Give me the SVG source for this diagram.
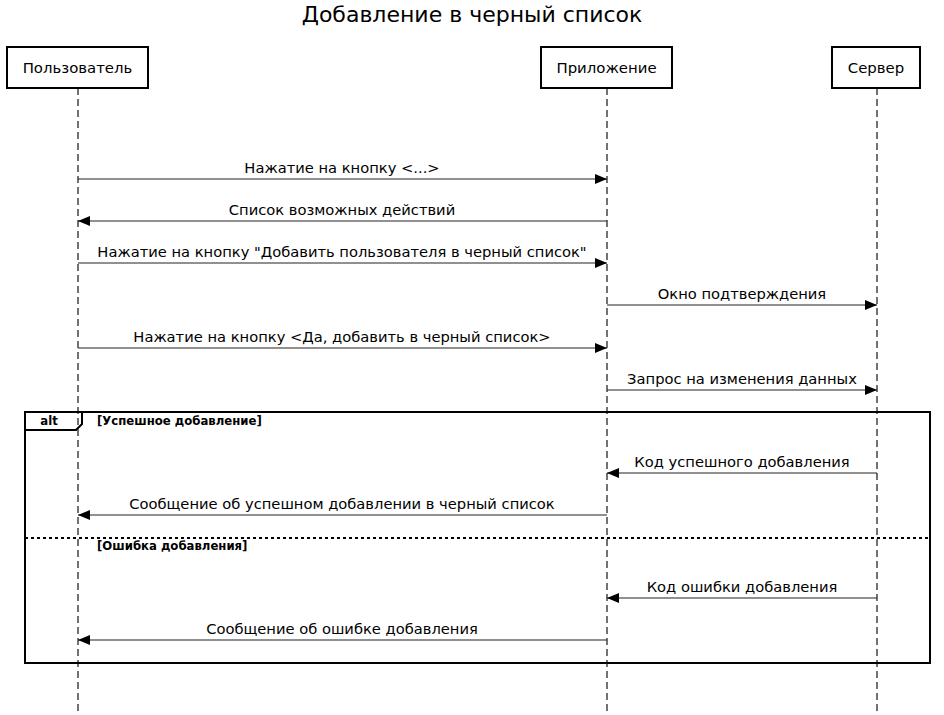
<svg xmlns="http://www.w3.org/2000/svg" width="944" height="715" viewBox="0 0 944 715">
<style>
text{font-family:"DejaVu Sans","Liberation Sans",sans-serif;fill:#000}
.actor{fill:#fff;stroke:#000;stroke-width:2}
.an{font-size:14.9px;text-anchor:middle}
.life{stroke:#444;stroke-width:1.5;stroke-dasharray:7,4;fill:none}
.msg{stroke:#222;stroke-width:1.2;fill:none}
.ml{font-size:14.7px;text-anchor:middle}
.frame{fill:none;stroke:#000;stroke-width:2}
.guard{font-size:11.7px;font-weight:bold}
</style>
<defs>
<marker id="ah" viewBox="0 0 12 10" refX="12" refY="5" markerWidth="12" markerHeight="10" markerUnits="userSpaceOnUse" orient="auto">
<path d="M0,0 L12,5 L0,10 Z" fill="#000"/>
</marker>
</defs>
<rect width="944" height="715" fill="#fff"/>
<text x="472" y="22" font-size="22" text-anchor="middle">Добавление в черный список</text>
<g id="lifelines">
<line class="life" x1="78" y1="88" x2="78" y2="715"/>
<line class="life" x1="607" y1="88" x2="607" y2="715"/>
<line class="life" x1="877" y1="88" x2="877" y2="715"/>
</g>
<g id="user"><rect class="actor" x="7" y="47" width="141" height="41"/><text class="an" x="77.5" y="73">Пользователь</text></g>
<g id="app"><rect class="actor" x="541" y="47" width="131" height="41"/><text class="an" x="606.5" y="73">Приложение</text></g>
<g id="server"><rect class="actor" x="832" y="47" width="88" height="41"/><text class="an" x="876" y="73">Сервер</text></g>
<g id="alt">
<rect class="frame" x="25" y="412" width="905" height="251"/>
<path d="M25,430 L76,430 L82,424 L82,412" fill="none" stroke="#000" stroke-width="2"/>
<text x="49" y="425" font-size="11.7" font-weight="bold" text-anchor="middle">alt</text>
<text class="guard" x="97" y="425">[Успешное добавление]</text>
<line x1="25" y1="538" x2="930" y2="538" stroke="#000" stroke-width="2" stroke-dasharray="3,3"/>
<text class="guard" x="97" y="550">[Ошибка добавления]</text>
</g>
<g id="connectors">
<line class="msg" x1="78" y1="179" x2="607" y2="179" marker-end="url(#ah)"/>
<text class="ml" x="342" y="173">Нажатие на кнопку &lt;...&gt;</text>
<line class="msg" x1="607" y1="221" x2="78" y2="221" marker-end="url(#ah)"/>
<text class="ml" x="342" y="215">Список возможных действий</text>
<line class="msg" x1="78" y1="263" x2="607" y2="263" marker-end="url(#ah)"/>
<text class="ml" x="342" y="257">Нажатие на кнопку "Добавить пользователя в черный список"</text>
<line class="msg" x1="607" y1="305" x2="877" y2="305" marker-end="url(#ah)"/>
<text class="ml" x="742" y="299">Окно подтверждения</text>
<line class="msg" x1="78" y1="348" x2="607" y2="348" marker-end="url(#ah)"/>
<text class="ml" x="342" y="342">Нажатие на кнопку &lt;Да, добавить в черный список&gt;</text>
<line class="msg" x1="607" y1="390" x2="877" y2="390" marker-end="url(#ah)"/>
<text class="ml" x="742" y="384">Запрос на изменения данных</text>
<line class="msg" x1="877" y1="473" x2="607" y2="473" marker-end="url(#ah)"/>
<text class="ml" x="742" y="467">Код успешного добавления</text>
<line class="msg" x1="607" y1="515" x2="78" y2="515" marker-end="url(#ah)"/>
<text class="ml" x="342" y="509">Сообщение об успешном добавлении в черный список</text>
<line class="msg" x1="877" y1="598" x2="607" y2="598" marker-end="url(#ah)"/>
<text class="ml" x="742" y="592">Код ошибки добавления</text>
<line class="msg" x1="607" y1="640" x2="78" y2="640" marker-end="url(#ah)"/>
<text class="ml" x="342" y="634">Сообщение об ошибке добавления</text>
</g>
</svg>
